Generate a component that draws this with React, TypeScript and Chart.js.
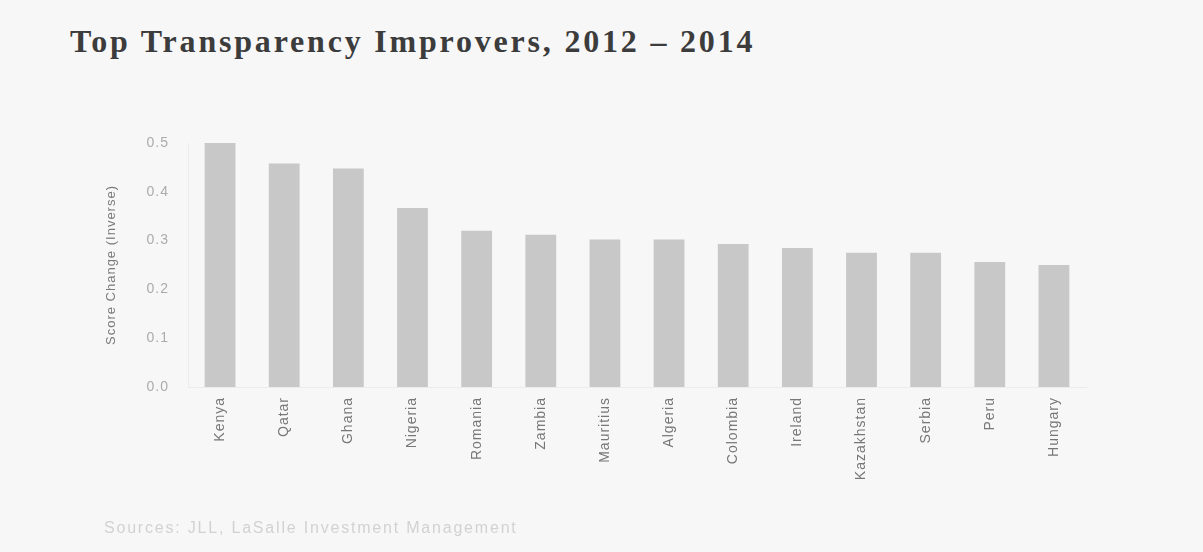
import React, { useEffect, useRef } from "react";
import { Chart, registerables } from "chart.js";

Chart.register(...registerables);

const categories = ["Kenya", "Qatar", "Ghana", "Nigeria", "Romania", "Zambia", "Mauritius", "Algeria", "Colombia", "Ireland", "Kazakhstan", "Serbia", "Peru", "Hungary"];
const scoreChange = [0.5, 0.458, 0.448, 0.367, 0.32, 0.312, 0.302, 0.302, 0.293, 0.285, 0.275, 0.275, 0.256, 0.25];
const yTicks = [0, 0.1, 0.2, 0.3, 0.4, 0.5];
const titleText = "Top Transparency Improvers, 2012 – 2014";
const yAxisTitle = "Score Change (Inverse)";
const sourceText = "Sources: JLL, LaSalle Investment Management";

const spacingPlugin = {
  id: "spacing",
  beforeUpdate(chart: any) { chart.ctx.letterSpacing = "1px"; },
  beforeDraw(chart: any) { chart.ctx.letterSpacing = "1px"; },
};

export default function App() {
  const ref = useRef<HTMLCanvasElement | null>(null);
  useEffect(() => {
    document.body.style.margin = "0";
    const ctx = ref.current!;
    const chart = new Chart(ctx, {
      type: "bar",
      data: {
        labels: categories,
        datasets: [
          {
            data: scoreChange,
            backgroundColor: "#c8c8c8",
            borderWidth: 0,
            barPercentage: 0.48,
            categoryPercentage: 1,
          },
        ],
      },
      plugins: [spacingPlugin],
      options: {
        animation: false,
        responsive: false,
        maintainAspectRatio: false,
        layout: { padding: { left: 100, top: 143, right: 117, bottom: 0 } },
        plugins: { legend: { display: false }, tooltip: { enabled: false } },
        scales: {
          x: {
            grid: { display: false, drawTicks: false },
            border: { display: true, color: "#ececec" },
            ticks: {
              maxRotation: 90,
              minRotation: 90,
              autoSkip: false,
              padding: 10,
              color: "#777777",
              font: { family: "'Liberation Sans', Arial", size: 14 },
            },
            afterFit: (s: any) => { s.height = 165; },
          },
          y: {
            min: 0,
            max: 0.5,
            afterBuildTicks: (s: any) => { s.ticks = yTicks.map((v) => ({ value: v })); },
            grid: { display: false, drawTicks: false },
            border: { display: true, color: "#ececec" },
            ticks: {
              padding: 19,
              color: "#ababab",
              font: { family: "'Liberation Sans', Arial", size: 14 },
              callback: (v: any) => Number(v).toFixed(1),
            },
            title: {
              display: true,
              text: yAxisTitle,
              color: "#7a7a7a",
              font: { family: "'Liberation Sans', Arial", size: 13 },
              padding: { top: 4, bottom: 4 },
            },
            afterFit: (s: any) => { s.width = 88; },
          },
        },
      },
    });
    return () => chart.destroy();
  }, []);
  return (
    <div style={{ position: "relative", width: 1203, height: 552, background: "#f7f7f7", overflow: "hidden" }}>
      <div
        style={{
          position: "absolute",
          left: 70,
          top: 23,
          fontFamily: "'Liberation Serif', 'Times New Roman', serif",
          fontWeight: "bold",
          fontSize: 32,
          letterSpacing: "2.8px",
          color: "#3c3c3c",
          whiteSpace: "nowrap",
        }}
      >
        {titleText}
      </div>
      <canvas ref={ref} width={1203} height={552} style={{ position: "absolute", left: 0, top: 0 }} />
      <div
        style={{
          position: "absolute",
          left: 104,
          top: 519,
          fontFamily: "'Liberation Sans', Arial, sans-serif",
          fontSize: 16,
          letterSpacing: "1.8px",
          color: "#d2d2d2",
          whiteSpace: "nowrap",
        }}
      >
        {sourceText}
      </div>
    </div>
  );
}
